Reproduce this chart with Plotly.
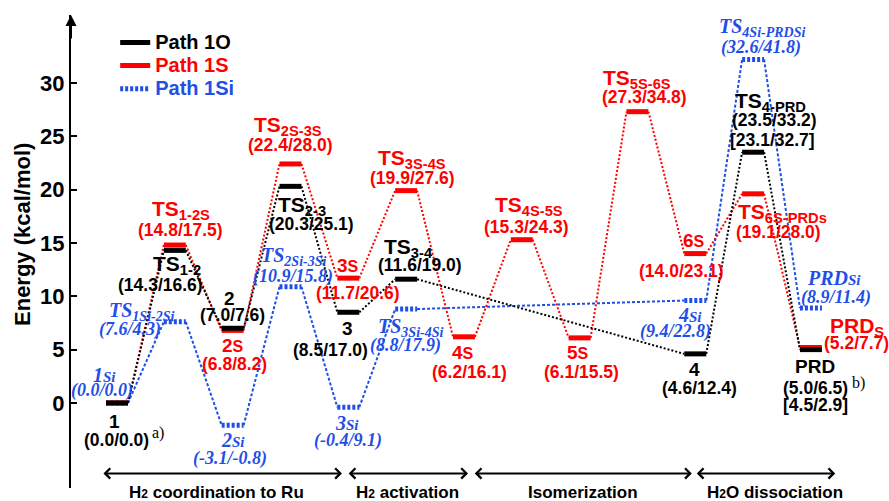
import plotly.graph_objects as go

# ---------------- data ----------------
path1O_pos = [1, 2, 3, 4, 5, 6, 11, 12, 13]
path1O_E = [0.0, 14.3, 7.0, 20.3, 8.5, 11.6, 4.6, 23.5, 5.0]
path1O_names = ["1", "TS<sub>1-2</sub>", "2", "TS<sub>2-3</sub>", "3", "TS<sub>3-4</sub>",
                "4", "TS<sub>4-PRD</sub>", "PRD"]
path1O_vals = ["(0.0/0.0)", "(14.3/16.6)", "(7.0/7.6)", "(20.3/25.1)", "(8.5/17.0)",
               "(11.6/19.0)", "(4.6/12.4)", "(23.5/33.2)", "(5.0/6.5)"]

path1S_pos = [1, 2, 3, 4, 5, 6, 7, 8, 9, 10, 11, 12, 13]
path1S_E = [0.0, 14.8, 6.8, 22.4, 11.7, 19.9, 6.2, 15.3, 6.1, 27.3, 14.0, 19.6, 5.2]
path1S_names = ["", "TS<sub>1-2S</sub>", "2S", "TS<sub>2S-3S</sub>", "3S", "TS<sub>3S-4S</sub>",
                "4S", "TS<sub>4S-5S</sub>", "5S", "TS<sub>5S-6S</sub>", "6S",
                "TS<sub>6S-PRDs</sub>", "PRD<sub>S</sub>"]
path1S_vals = ["", "(14.8/17.5)", "(6.8/8.2)", "(22.4/28.0)", "(11.7/20.6)", "(19.9/27.6)",
               "(6.2/16.1)", "(15.3/24.3)", "(6.1/15.5)", "(27.3/34.8)", "(14.0/23.1)",
               "(19.1/28.0)", "(5.2/7.7)"]

path1Si_pos = [1, 2, 3, 4, 5, 6, 11, 12, 13]
path1Si_E = [0.0, 7.6, -2.1, 10.9, -0.4, 8.8, 9.6, 32.2, 8.9]
path1Si_names = ["1Si", "TS<sub>1Si-2Si</sub>", "2Si", "TS<sub>2Si-3Si</sub>", "3Si",
                 "TS<sub>3Si-4Si</sub>", "4Si", "TS<sub>4Si-PRDSi</sub>", "PRDSi"]
path1Si_vals = ["(0.0/0.0)", "(7.6/4.3)", "(-3.1/-0.8)", "(10.9/15.8)", "(-0.4/9.1)",
                "(8.8/17.9)", "(9.4/22.8)", "(32.6/41.8)", "(8.9/11.4)"]

extra_1O_text = ["[23.1/32.7]", "[4.5/2.9]"]
extra_1O_idx = [7, 8]

stage_names = ["H<span style='font-size:12px'>2</span> coordination to Ru",
               "H<span style='font-size:12px'>2</span> activation",
               "Isomerization",
               "H<span style='font-size:12px'>2</span>O dissociation"]
stage_start = [0.74, 4.98, 7.16, 11.0]
stage_end = [4.89, 7.07, 10.94, 13.42]

y_ticks = [0, 5, 10, 15, 20, 25, 30]

# ---------------- style / layout tables ----------------
BLACK = "#000000"
RED = "#ff0000"
BLUE = "#1f4fe6"
SANS = "Liberation Sans"
SERIF = "Liberation Serif"
HW = 0.19  # half bar width in x units

# label offsets in pixels (dx, dy up-positive) relative to bar centre
o_name_off = [(-3, -19), (2, -15), (-3, 30), (12, -20), (-1, -16), (2, 31), (-1, -16), (17, 50), (4, -17)]
o_val_off = [(-1, -37), (-14, -35), (0, 13), (21, -38), (-18, -38), (14, 14), (4, -34), (21, 32), (5, -38)]
o_extra_off = [(19, 12), (5, -55)]
s_name_off = [None, (6, 35), (0, -15), (-2, 38), (0, 13), (6, 32), (-1, -16), (7, 34), (-2, -15),
              (0, 33), (-1, 13), (29, -19), (46, 20)]
s_val_off = [None, (6, 15), (2, -34), (0, 19), (10, -15), (6, 13), (6, -35), (5, 13), (2, -34),
             (7, 15), (-14, -17), (25, -38), (46, 4)]
si_name_off = [(-13, 28), (-33, 10), (0, -15), (3, 30), (-1, -16), (4, -18), (-5, -14), (9, 32), (23, 30)]
si_val_off = [(-15, 12), (-45, -8), (-3, -33), (3, 10), (0, -33), (-1, -36), (-20, -31), (8, 12), (25, 11)]


def bar_xy(pos, E):
    xs, ys = [], []
    for p, e in zip(pos, E):
        xs += [p - HW, p + HW, None]
        ys += [e, e, None]
    return xs, ys


def link_xy(pos, E):
    xs, ys = [], []
    for i in range(len(pos) - 1):
        xs += [pos[i] + HW, pos[i + 1] - HW, None]
        ys += [E[i], E[i + 1], None]
    return xs, ys


fig = go.Figure()

# connectors
for pos, E, col, dash in [(path1Si_pos, path1Si_E, BLUE, "3px,2px"),
                          (path1S_pos, path1S_E, RED, "2px,2px"),
                          (path1O_pos, path1O_E, BLACK, "2px,2px")]:
    x, y = link_xy(pos, E)
    fig.add_trace(go.Scatter(x=x, y=y, mode="lines", showlegend=False, hoverinfo="skip",
                             line=dict(color=col, width=2, dash=dash)))

# bars
for pos, E, col, dash, name, rank in [
        (path1Si_pos, path1Si_E, BLUE, "3px,2px", "Path 1Si", 3),
        (path1S_pos, path1S_E, RED, "solid", "Path 1S", 2),
        (path1O_pos, path1O_E, BLACK, "solid", "Path 1O", 1)]:
    x, y = bar_xy(pos, E)
    fig.add_trace(go.Scatter(x=x, y=y, mode="lines", hoverinfo="skip",
                             name="<b><span style='color:%s;font-size:20px'>%s</span></b>" % (col, name),
                             legendrank=rank,
                             line=dict(color=col, width=5, dash=dash)))

ann = []


def add_label(x, y, text, off, font, color):
    ann.append(dict(x=x, y=y, xref="x", yref="y", text=text, showarrow=False,
                    xanchor="center", yanchor="middle", xshift=off[0], yshift=off[1],
                    font=dict(family=font[0], size=font[1], color=color)))


# black labels
for i, (p, e) in enumerate(zip(path1O_pos, path1O_E)):
    nm = path1O_names[i]
    size = 21 if nm.startswith("TS") else 19
    add_label(p, e, "<b>%s</b>" % nm, o_name_off[i], (SANS, size), BLACK)
    add_label(p, e, "<b>%s</b>" % path1O_vals[i], o_val_off[i], (SANS, 17.5), BLACK)
for k, i in enumerate(extra_1O_idx):
    add_label(path1O_pos[i], path1O_E[i], "<b>%s</b>" % extra_1O_text[k], o_extra_off[k], (SANS, 17.5), BLACK)
add_label(path1O_pos[0], path1O_E[0], "a)", (41, -30), (SERIF, 16), BLACK)
add_label(path1O_pos[-1], path1O_E[-1], "b)", (48, -33), (SERIF, 16), BLACK)

# red labels
for i, (p, e) in enumerate(zip(path1S_pos, path1S_E)):
    if not path1S_names[i]:
        continue
    nm = path1S_names[i]
    if nm.startswith("TS"):
        txt, size = nm, 21
    elif nm.startswith("PRD"):
        txt, size = nm, 21
    else:
        txt, size = nm[:-1] + "<span style='font-size:16px'>S</span>", 19
    add_label(p, e, "<b>%s</b>" % txt, s_name_off[i], (SANS, size), RED)
    add_label(p, e, "<b>%s</b>" % path1S_vals[i], s_val_off[i], (SANS, 17.5), RED)

# blue labels
for i, (p, e) in enumerate(zip(path1Si_pos, path1Si_E)):
    nm = path1Si_names[i]
    if nm.startswith("TS"):
        txt, size = nm, 20
    else:
        txt, size = nm[:-2] + "<span style='font-size:15px'>Si</span>", 20
    add_label(p, e, "<b><i>%s</i></b>" % txt, si_name_off[i], (SERIF, size), BLUE)
    add_label(p, e, "<b><i>%s</i></b>" % path1Si_vals[i], si_val_off[i], (SERIF, 18), BLUE)

# stage arrows and labels
ARROW_Y = -6.6
stage_dx = [-5, 0, 0, 10]
for s, e, nm, dx in zip(stage_start, stage_end, stage_names, stage_dx):
    ann.append(dict(x=e, y=ARROW_Y, ax=s, ay=ARROW_Y, xref="x", yref="y", axref="x", ayref="y",
                    text="", showarrow=True, arrowside="end+start", arrowhead=4,
                    startarrowhead=4, arrowwidth=2, arrowsize=1, startarrowsize=1,
                    arrowcolor=BLACK))
    ann.append(dict(x=(s + e) / 2, y=ARROW_Y, xref="x", yref="y", text="<b>%s</b>" % nm,
                    showarrow=False, xshift=dx, yshift=-19, xanchor="center", yanchor="middle",
                    font=dict(family=SANS, size=17, color=BLACK)))

# y axis arrow head
ann.append(dict(x=0, y=1, xref="paper", yref="paper", ax=0, ay=25, axref="pixel", ayref="pixel",
                text="", showarrow=True, arrowhead=2, arrowsize=1.1, arrowwidth=2,
                arrowcolor=BLACK, standoff=0))
# y axis title
ann.append(dict(x=-0.0587, y=0.537, xref="paper", yref="paper", text="<b>Energy (kcal/mol)</b>",
                textangle=-90, showarrow=False, xanchor="center", yanchor="middle",
                font=dict(family=SANS, size=22, color=BLACK)))

fig.update_layout(
    width=889, height=501,
    margin=dict(l=71, r=0, t=15, b=13),
    paper_bgcolor="white", plot_bgcolor="white",
    annotations=ann,
    legend=dict(x=0.054, y=0.977, xanchor="left", yanchor="top", bgcolor="rgba(0,0,0,0)",
                font=dict(family=SANS, size=15.5, color=BLACK), tracegroupgap=0),
    xaxis=dict(range=[0.2046, 14.35], visible=False, fixedrange=True),
    yaxis=dict(range=[-7.97, 36.36], showgrid=False, zeroline=False, showline=True,
               linecolor=BLACK, linewidth=2, tickvals=y_ticks, ticks="inside", ticklen=6,
               tickwidth=2, tickcolor=BLACK, fixedrange=True,
               tickfont=dict(family=SANS, size=22, color=BLACK, weight="bold")),
)

fig.write_html("out.html", config={"displayModeBar": False, "staticPlot": True},
               post_script="document.body.style.margin='0px';document.body.style.overflow='hidden';")
